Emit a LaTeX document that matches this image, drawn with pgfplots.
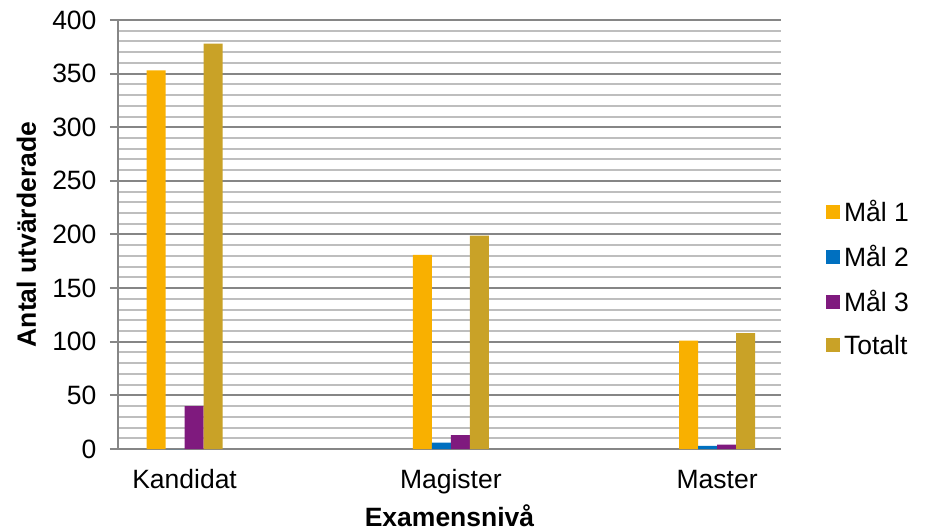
\documentclass[border=0pt]{standalone}
\usepackage{fontspec}
\setmainfont{Liberation Sans}
\usepackage{pgfplots}
\pgfplotsset{compat=1.18}

\definecolor{mal1}{HTML}{F9B000}
\definecolor{mal2}{HTML}{0070C0}
\definecolor{mal3}{HTML}{7F1A7E}
\definecolor{totalt}{HTML}{C9A227}
\definecolor{majgrid}{HTML}{868686}
\definecolor{mingrid}{HTML}{BEBEBE}

\newcommand{\chartfont}{\fontsize{26.5}{31}\selectfont}

\begin{document}
\begin{tikzpicture}
\begin{axis}[
    at={(118pt,81pt)}, anchor=south west,
    scale only axis, width=663pt, height=429pt,
    ybar=0pt, bar width=0.0714,
    xmin=-0.25, xmax=2.24, ymin=0, ymax=400,
    xtick={0,1,2}, xticklabels={Kandidat,Magister,Master},
    ytick={0,50,...,400}, minor y tick num=4,
    ymajorgrids, yminorgrids,
    major grid style={majgrid, line width=2pt},
    minor grid style={mingrid, line width=2pt},
    axis lines*=left,
    axis line style={majgrid, line width=2pt},
    x tick style={draw=none},
    y tick style={majgrid, line width=2pt},
    minor y tick style={draw=none},
    tick align=outside, major tick length=8pt,
    tick label style={font=\chartfont},
    /pgf/number format/assume math mode=true,
    xticklabel style={anchor=base, yshift=-31pt},
    yticklabel style={anchor=east, xshift=-10pt},
    every axis y label/.style={at={(axis description cs:-0.1237,0.5)}, rotate=90, anchor=base, font=\chartfont\bfseries},
    every axis x label/.style={at={(axis description cs:0.5,-0.1795)}, anchor=base, font=\chartfont\bfseries},
    ylabel={Antal utvärderade},
    xlabel={Examensnivå},
    legend style={at={(1.068,0.3986)}, anchor=west, draw=none, fill=none,
        inner sep=0pt, outer sep=0pt, row sep=22pt, font=\chartfont,
        nodes={inner xsep=4pt, inner ysep=0pt}},
    legend cell align=left,
    legend image code/.code={\fill[#1] (0pt,-7pt) rectangle (14pt,7pt);},
]
\addplot[fill=mal1, draw=none] coordinates {(0,353) (1,181) (2,101)};
\addplot[fill=mal2, draw=none] coordinates {(0,0) (1,6) (2,3)};
\addplot[fill=mal3, draw=none] coordinates {(0,40) (1,13) (2,4)};
\addplot[fill=totalt, draw=none] coordinates {(0,378) (1,199) (2,108)};
\legend{Mål 1, Mål 2, Mål 3, Totalt}
\end{axis}
\pgfresetboundingbox
\path (0,0) rectangle (928pt,530pt);
\end{tikzpicture}
\end{document}
